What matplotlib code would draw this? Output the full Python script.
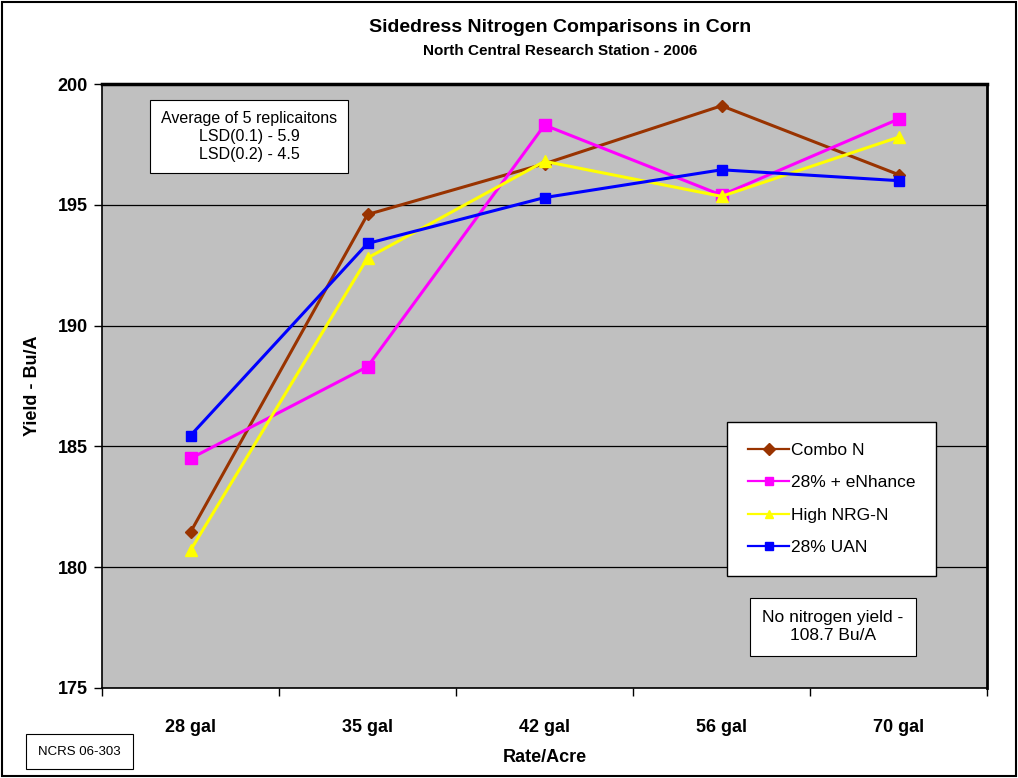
import matplotlib.pyplot as plt
import numpy as np

plt.rcParams['font.family'] = ['Liberation Sans', 'DejaVu Sans']

rates = ['28 gal', '35 gal', '42 gal', '56 gal', '70 gal']
combo_n = [181.45, 194.6, 196.7, 199.1, 196.25]
enhance = [184.5, 188.3, 198.3, 195.4, 198.55]
high_nrg = [180.7, 192.8, 196.8, 195.35, 197.8]
uan = [185.45, 193.4, 195.3, 196.45, 196.0]

series = [
    ('Combo N', combo_n, '#993300', 'D', 6),
    ('28% + eNhance', enhance, '#FF00FF', 's', 8),
    ('High NRG-N', high_nrg, '#FFFF00', '^', 8),
    ('28% UAN', uan, '#0000FF', 's', 6.5),
]

fig = plt.figure(figsize=(10.18, 7.78), dpi=100)
ax = fig.add_axes([0.1002, 0.1157, 0.8694, 0.7763])
ax.set_facecolor('#C0C0C0')

x = np.arange(len(rates)) + 0.5
for name, vals, col, mk, ms in series:
    ax.plot(x, vals, color=col, marker=mk, markersize=ms, linewidth=2.2, label=name, zorder=3)

ax.set_xlim(0, len(rates))
ax.set_ylim(175, 200)
ax.set_yticks([175, 180, 185, 190, 195, 200])
ax.grid(axis='y', color='black', linewidth=0.9, zorder=1)
ax.set_axisbelow(True)

ax.set_xticks(np.arange(len(rates) + 1))
ax.set_xticklabels([])
ax.set_xticks(x, minor=True)
ax.set_xticklabels(rates, minor=True, fontsize=13, fontweight='bold')
ax.tick_params(axis='x', which='major', length=6, direction='out', width=1)
ax.tick_params(axis='x', which='minor', length=0, pad=22)
ax.tick_params(axis='y', length=6, direction='out', width=1, labelsize=13, pad=4)
for t in ax.get_yticklabels():
    t.set_fontweight('bold')
for s in ax.spines.values():
    s.set_linewidth(1.2)
ax.spines['top'].set_linewidth(2.5)
ax.spines['right'].set_linewidth(2)

ax.set_xlabel('Rate/Acre', fontsize=13, fontweight='bold', labelpad=10)
ax.set_ylabel('Yield - Bu/A', fontsize=13, fontweight='bold', labelpad=12)

fig.text(0.55, 0.965, 'Sidedress Nitrogen Comparisons in Corn', ha='center', va='center',
         fontsize=14, fontweight='bold')
fig.text(0.55, 0.934, 'North Central Research Station - 2006', ha='center', va='center',
         fontsize=11, fontweight='bold')

leg = ax.legend(loc='upper left', bbox_to_anchor=(0.706, 0.441), fontsize=12.5,
                frameon=True, fancybox=False, edgecolor='black', framealpha=1,
                handlelength=2.4, handletextpad=0.1, labelspacing=1.0,
                borderpad=1.2, borderaxespad=0)
leg.get_frame().set_linewidth(1)
for h in leg.legend_handles:
    h.set_markersize(6)
    h.set_linewidth(1.6)

ax.text(0.166, 0.955, 'Average of 5 replicaitons\nLSD(0.1) - 5.9\nLSD(0.2) - 4.5',
        transform=ax.transAxes, ha='center', va='top', fontsize=11.5, linespacing=1.25,
        bbox=dict(boxstyle='square,pad=0.7', facecolor='white', edgecolor='black', linewidth=0.8))
ax.text(0.826, 0.101, 'No nitrogen yield -\n108.7 Bu/A', transform=ax.transAxes,
        ha='center', va='center', fontsize=12.5, linespacing=1.25,
        bbox=dict(boxstyle='square,pad=0.7', facecolor='white', edgecolor='black', linewidth=0.8))

fig.text(0.078, 0.034, 'NCRS 06-303', ha='center', va='center', fontsize=9.5,
         bbox=dict(boxstyle='square,pad=0.9', facecolor='white', edgecolor='black', linewidth=0.8))

fig.patches.append(plt.Rectangle((0.002, 0.002), 0.996, 0.996, transform=fig.transFigure,
                                 fill=False, edgecolor='black', linewidth=1.5))

fig.savefig('out.png', dpi=100)
